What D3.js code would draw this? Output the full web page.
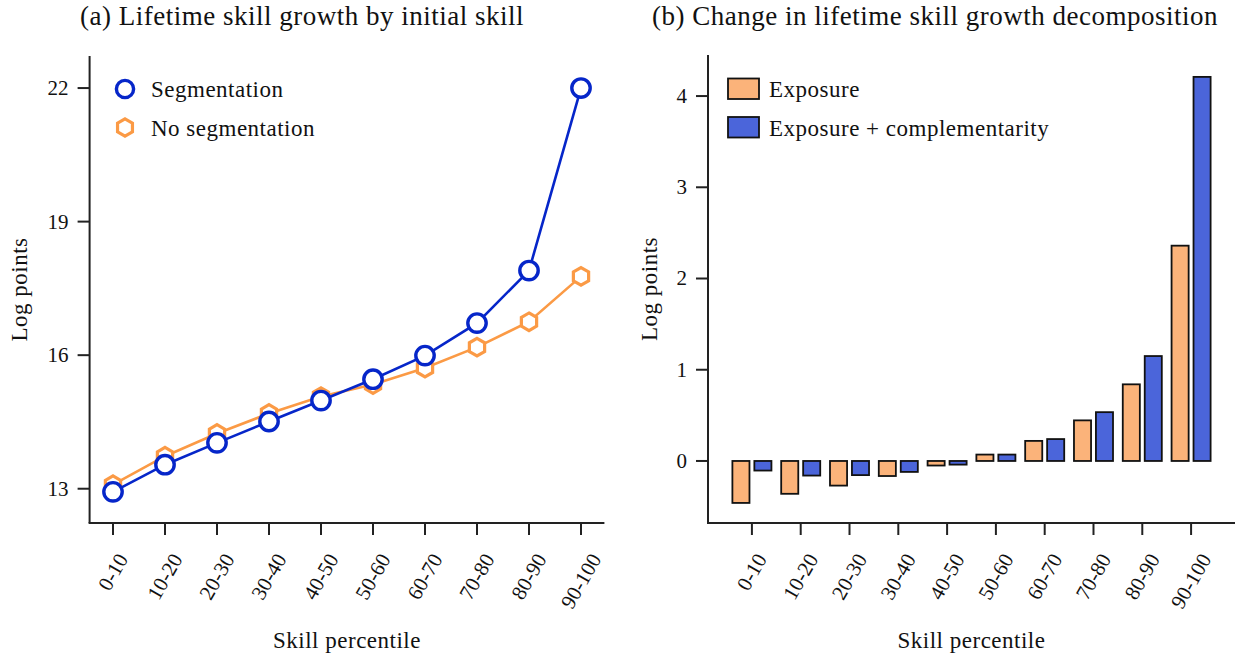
<!DOCTYPE html>
<html>
<head>
<meta charset="utf-8">
<script src="https://cdn.jsdelivr.net/npm/d3@7/dist/d3.min.js"></script>
<style>
  html, body { margin: 0; padding: 0; background: #fff; }
  svg { display: block; }
  text { font-family: "Liberation Serif", "Times New Roman", serif; fill: #111; }
</style>
</head>
<body>
<svg id="chart" width="1235" height="658"></svg>
<script>
// ---------- DATA ----------
const categories = ["0-10","10-20","20-30","30-40","40-50","50-60","60-70","70-80","80-90","90-100"];
const segmentation   = [12.93, 13.54, 14.03, 14.51, 14.98, 15.46, 15.99, 16.72, 17.90, 22.00];
const noSegmentation = [13.09, 13.73, 14.24, 14.69, 15.07, 15.34, 15.71, 16.18, 16.75, 17.77];
const exposure       = [-0.46, -0.36, -0.27, -0.165, -0.05, 0.07, 0.22, 0.445, 0.84, 2.36];
const exposureComp   = [-0.105, -0.16, -0.155, -0.12, -0.04, 0.07, 0.24, 0.535, 1.15, 4.21];
const leftTicks  = [13, 16, 19, 22];
const rightTicks = [0, 1, 2, 3, 4];
const titleA = "(a) Lifetime skill growth by initial skill";
const titleB = "(b) Change in lifetime skill growth decomposition";
const yLabel = "Log points";
const xLabel = "Skill percentile";
const legendA = ["Segmentation", "No segmentation"];
const legendB = ["Exposure", "Exposure + complementarity"];

// ---------- STYLE ----------
const blueLine = "#0626c9", orangeLine = "#fb9a45";
const barOrange = "#fbb37a", barBlue = "#4b65da";
const spine = "#222";
const LBL = 23, LS = 0.5, TICK = 21;

const svg = d3.select("#chart");

function hexPath(r) {
  const pts = d3.range(6).map(k => {
    const a = (-90 + 60 * k) * Math.PI / 180;
    return [r * Math.cos(a), r * Math.sin(a)];
  });
  return "M" + pts.map(p => p.join(",")).join("L") + "Z";
}

function drawAxes(g, x, y, yTicks, left, right, top, bottom) {
  g.append("line").attr("x1", left).attr("x2", left).attr("y1", top).attr("y2", bottom)
    .attr("stroke", spine).attr("stroke-width", 2);
  g.append("line").attr("x1", left - 1).attr("x2", right).attr("y1", bottom).attr("y2", bottom)
    .attr("stroke", spine).attr("stroke-width", 2);
  yTicks.forEach(t => {
    const yy = y(t);
    g.append("line").attr("x1", left - 12).attr("x2", left).attr("y1", yy).attr("y2", yy)
      .attr("stroke", spine).attr("stroke-width", 2);
    g.append("text").attr("x", left - 21).attr("y", yy).attr("dy", "0.33em")
      .attr("text-anchor", "end").attr("font-size", TICK).text(t);
  });
  categories.forEach((c, i) => {
    const xx = x(i);
    g.append("line").attr("x1", xx).attr("x2", xx).attr("y1", bottom).attr("y2", bottom + 12)
      .attr("stroke", spine).attr("stroke-width", 2);
    const t = g.append("text").attr("text-anchor", "middle").attr("dy", "0.33em")
      .attr("font-size", TICK).text(c);
    const w = t.node().getComputedTextLength();
    const h = 13.5;
    const rh = w * Math.sin(Math.PI / 3) + h * 0.5;
    const cy = bottom + 29 + rh / 2;
    t.attr("transform", `translate(${xx},${cy}) rotate(-60)`);
  });
  g.append("text").attr("x", (left + right) / 2).attr("y", 648)
    .attr("text-anchor", "middle").attr("font-size", LBL).attr("letter-spacing", LS).text(xLabel);
}

// ---------- PANEL A ----------
{
  const left = 89.6, right = 604.4, top = 56, bottom = 523;
  const x = d3.scaleLinear().domain([-0.45, 9.45]).range([left, right]);
  const y = d3.scaleLinear().domain([12.23, 22.72]).range([bottom, top]);
  const g = svg.append("g");
  drawAxes(g, x, y, leftTicks, left, right, top, bottom);
  g.append("text").attr("transform", `translate(27,${(top + bottom) / 2}) rotate(-90)`)
    .attr("text-anchor", "middle").attr("font-size", LBL).attr("letter-spacing", LS).text(yLabel);

  const line = d3.line().x((d, i) => x(i)).y(d => y(d));
  g.append("path").datum(noSegmentation).attr("d", line).attr("fill", "none")
    .attr("stroke", orangeLine).attr("stroke-width", 2.6);
  g.selectAll(".hx").data(noSegmentation).enter().append("path")
    .attr("d", hexPath(8.8)).attr("transform", (d, i) => `translate(${x(i)},${y(d)})`)
    .attr("fill", "#fff").attr("stroke", orangeLine).attr("stroke-width", 3.2);
  g.append("path").datum(segmentation).attr("d", line).attr("fill", "none")
    .attr("stroke", blueLine).attr("stroke-width", 2.6);
  g.selectAll(".ci").data(segmentation).enter().append("circle")
    .attr("cx", (d, i) => x(i)).attr("cy", d => y(d)).attr("r", 9.2)
    .attr("fill", "#fff").attr("stroke", blueLine).attr("stroke-width", 3.4);

  g.append("circle").attr("cx", 125).attr("cy", 89).attr("r", 8.6)
    .attr("fill", "#fff").attr("stroke", blueLine).attr("stroke-width", 3.4);
  g.append("path").attr("d", hexPath(8.6)).attr("transform", "translate(125,127.5)")
    .attr("fill", "#fff").attr("stroke", orangeLine).attr("stroke-width", 3.2);
  g.append("text").attr("x", 151).attr("y", 97).attr("font-size", LBL).attr("letter-spacing", LS).text(legendA[0]);
  g.append("text").attr("x", 151).attr("y", 136).attr("font-size", LBL).attr("letter-spacing", LS).text(legendA[1]);

  svg.append("text").attr("x", 302).attr("y", 25).attr("text-anchor", "middle")
    .attr("font-size", 27).attr("letter-spacing", 0.5).text(titleA);
}

// ---------- PANEL B ----------
{
  const left = 708, right = 1235, top = 55, bottom = 523;
  const x = d3.scaleLinear().domain([-0.9, 9.9]).range([left, right]);
  const y = d3.scaleLinear().domain([-0.68, 4.45]).range([bottom, top]);
  const g = svg.append("g");
  const unit = x(1) - x(0);
  const bw = 0.35 * unit, off = 0.225 * unit;

  const bars = [
    { vals: exposure, fill: barOrange, shift: -off },
    { vals: exposureComp, fill: barBlue, shift: off }
  ];
  bars.forEach(s => {
    g.selectAll(null).data(s.vals).enter().append("rect")
      .attr("x", (d, i) => x(i) + s.shift - bw / 2)
      .attr("width", bw)
      .attr("y", d => y(Math.max(0, d)))
      .attr("height", d => Math.abs(y(d) - y(0)))
      .attr("fill", s.fill).attr("stroke", "#111").attr("stroke-width", 1.8);
  });

  drawAxes(g, x, y, rightTicks, left, right, top, bottom);
  g.append("text").attr("transform", `translate(657,${(top + bottom) / 2}) rotate(-90)`)
    .attr("text-anchor", "middle").attr("font-size", LBL).attr("letter-spacing", LS).text(yLabel);

  g.append("rect").attr("x", 728).attr("y", 78.5).attr("width", 31).attr("height", 20.5)
    .attr("fill", barOrange).attr("stroke", "#111").attr("stroke-width", 1.8);
  g.append("rect").attr("x", 728).attr("y", 117).attr("width", 31).attr("height", 20.5)
    .attr("fill", barBlue).attr("stroke", "#111").attr("stroke-width", 1.8);
  g.append("text").attr("x", 769).attr("y", 97).attr("font-size", LBL).attr("letter-spacing", LS).text(legendB[0]);
  g.append("text").attr("x", 769).attr("y", 136).attr("font-size", LBL).attr("letter-spacing", LS).text(legendB[1]);

  svg.append("text").attr("x", 935).attr("y", 25).attr("text-anchor", "middle")
    .attr("font-size", 27).attr("letter-spacing", 0.5).text(titleB);
}
</script>
</body>
</html>
